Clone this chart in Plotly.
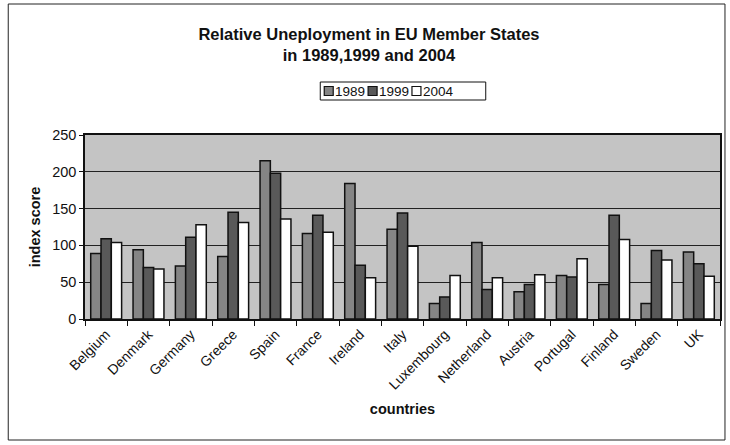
import plotly.graph_objects as go

countries = ["Belgium", "Denmark", "Germany", "Greece", "Spain", "France", "Ireland", "Italy",
             "Luxembourg", "Netherland", "Austria", "Portugal", "Finland", "Sweden", "UK"]
v1989 = [89, 94, 72, 85, 215, 116, 184, 122, 21, 104, 37, 59, 47, 21, 91]
v1999 = [109, 70, 111, 145, 198, 141, 73, 144, 30, 40, 47, 57, 141, 93, 75]
v2004 = [104, 68, 128, 131, 136, 118, 56, 99, 59, 56, 60, 82, 108, 80, 58]
series_names = ["1989", "1999", "2004"]
y_ticks = [0, 50, 100, 150, 200, 250]

W, H = 730, 445
L, R, T, B = 85, 8, 135, 126
PW, PH = W - L - R, H - T - B


def px(x):
    return (x - L) / PW


def py(y):
    return (H - B - y) / PH


colors = ["#858585", "#595959", "#ffffff"]
fig = go.Figure()
for name, vals, col in zip(series_names, [v1989, v1999, v2004], colors):
    fig.add_trace(go.Bar(name=name, x=countries, y=vals,
                         marker=dict(color=col, line=dict(color="#111111", width=1.5))))

fig.update_layout(
    width=W, height=H,
    margin=dict(l=L, r=R, t=T, b=B),
    paper_bgcolor="white", plot_bgcolor="#c4c4c4",
    font=dict(family="Liberation Sans, Arial", color="#111111", size=13),
    barmode="group", bargap=0.27, bargroupgap=0,
    title=dict(text="<b>Relative Uneployment in EU Member States<br>in 1989,1999 and 2004</b>",
               x=369 / W, xanchor="center", y=1 - 40 / H, yanchor="middle",
               font=dict(size=16.5, family="Liberation Sans, Arial")),
    showlegend=False,
)
fig.update_xaxes(showline=True, linecolor="#111111", linewidth=1.5, mirror=True,
                 ticks="outside", tickson="boundaries", ticklen=5, tickcolor="#111111",
                 tickangle=-45, tickfont=dict(size=14),
                 title=dict(text="<b>countries</b>", font=dict(size=14.5), standoff=12))
fig.update_yaxes(range=[0, 250], tickvals=y_ticks, showline=True, linecolor="#111111", linewidth=1.5,
                 mirror=True, ticks="outside", ticklen=4, tickcolor="#111111",
                 showgrid=True, gridcolor="#222222", gridwidth=1, zeroline=False,
                 tickfont=dict(size=14.5),
                 title=dict(text="<b>index score</b>", font=dict(size=14.5), standoff=8))

# compact legend (Excel style)
fig.add_shape(type="rect", xref="paper", yref="paper", x0=px(321), x1=px(487), y0=py(100), y1=py(82),
              line=dict(color="#111111", width=1), fillcolor="white")
sq_x = [325, 369, 413]
for sx, name, col in zip(sq_x, series_names, colors):
    fig.add_shape(type="rect", xref="paper", yref="paper", x0=px(sx), x1=px(sx + 9),
                  y0=py(95.5), y1=py(86.5), line=dict(color="#111111", width=1.2), fillcolor=col)
    fig.add_annotation(text=name, xref="paper", yref="paper", x=px(sx + 9), y=py(91),
                       xanchor="left", yanchor="middle", showarrow=False,
                       font=dict(size=13.5, family="Liberation Sans, Arial", color="#111111"))

# outer chart frame
fig.add_shape(type="rect", xref="paper", yref="paper", x0=px(8), x1=px(727), y0=py(440), y1=py(4),
              line=dict(color="#222222", width=1), layer="below")

fig.write_html("out.html")
